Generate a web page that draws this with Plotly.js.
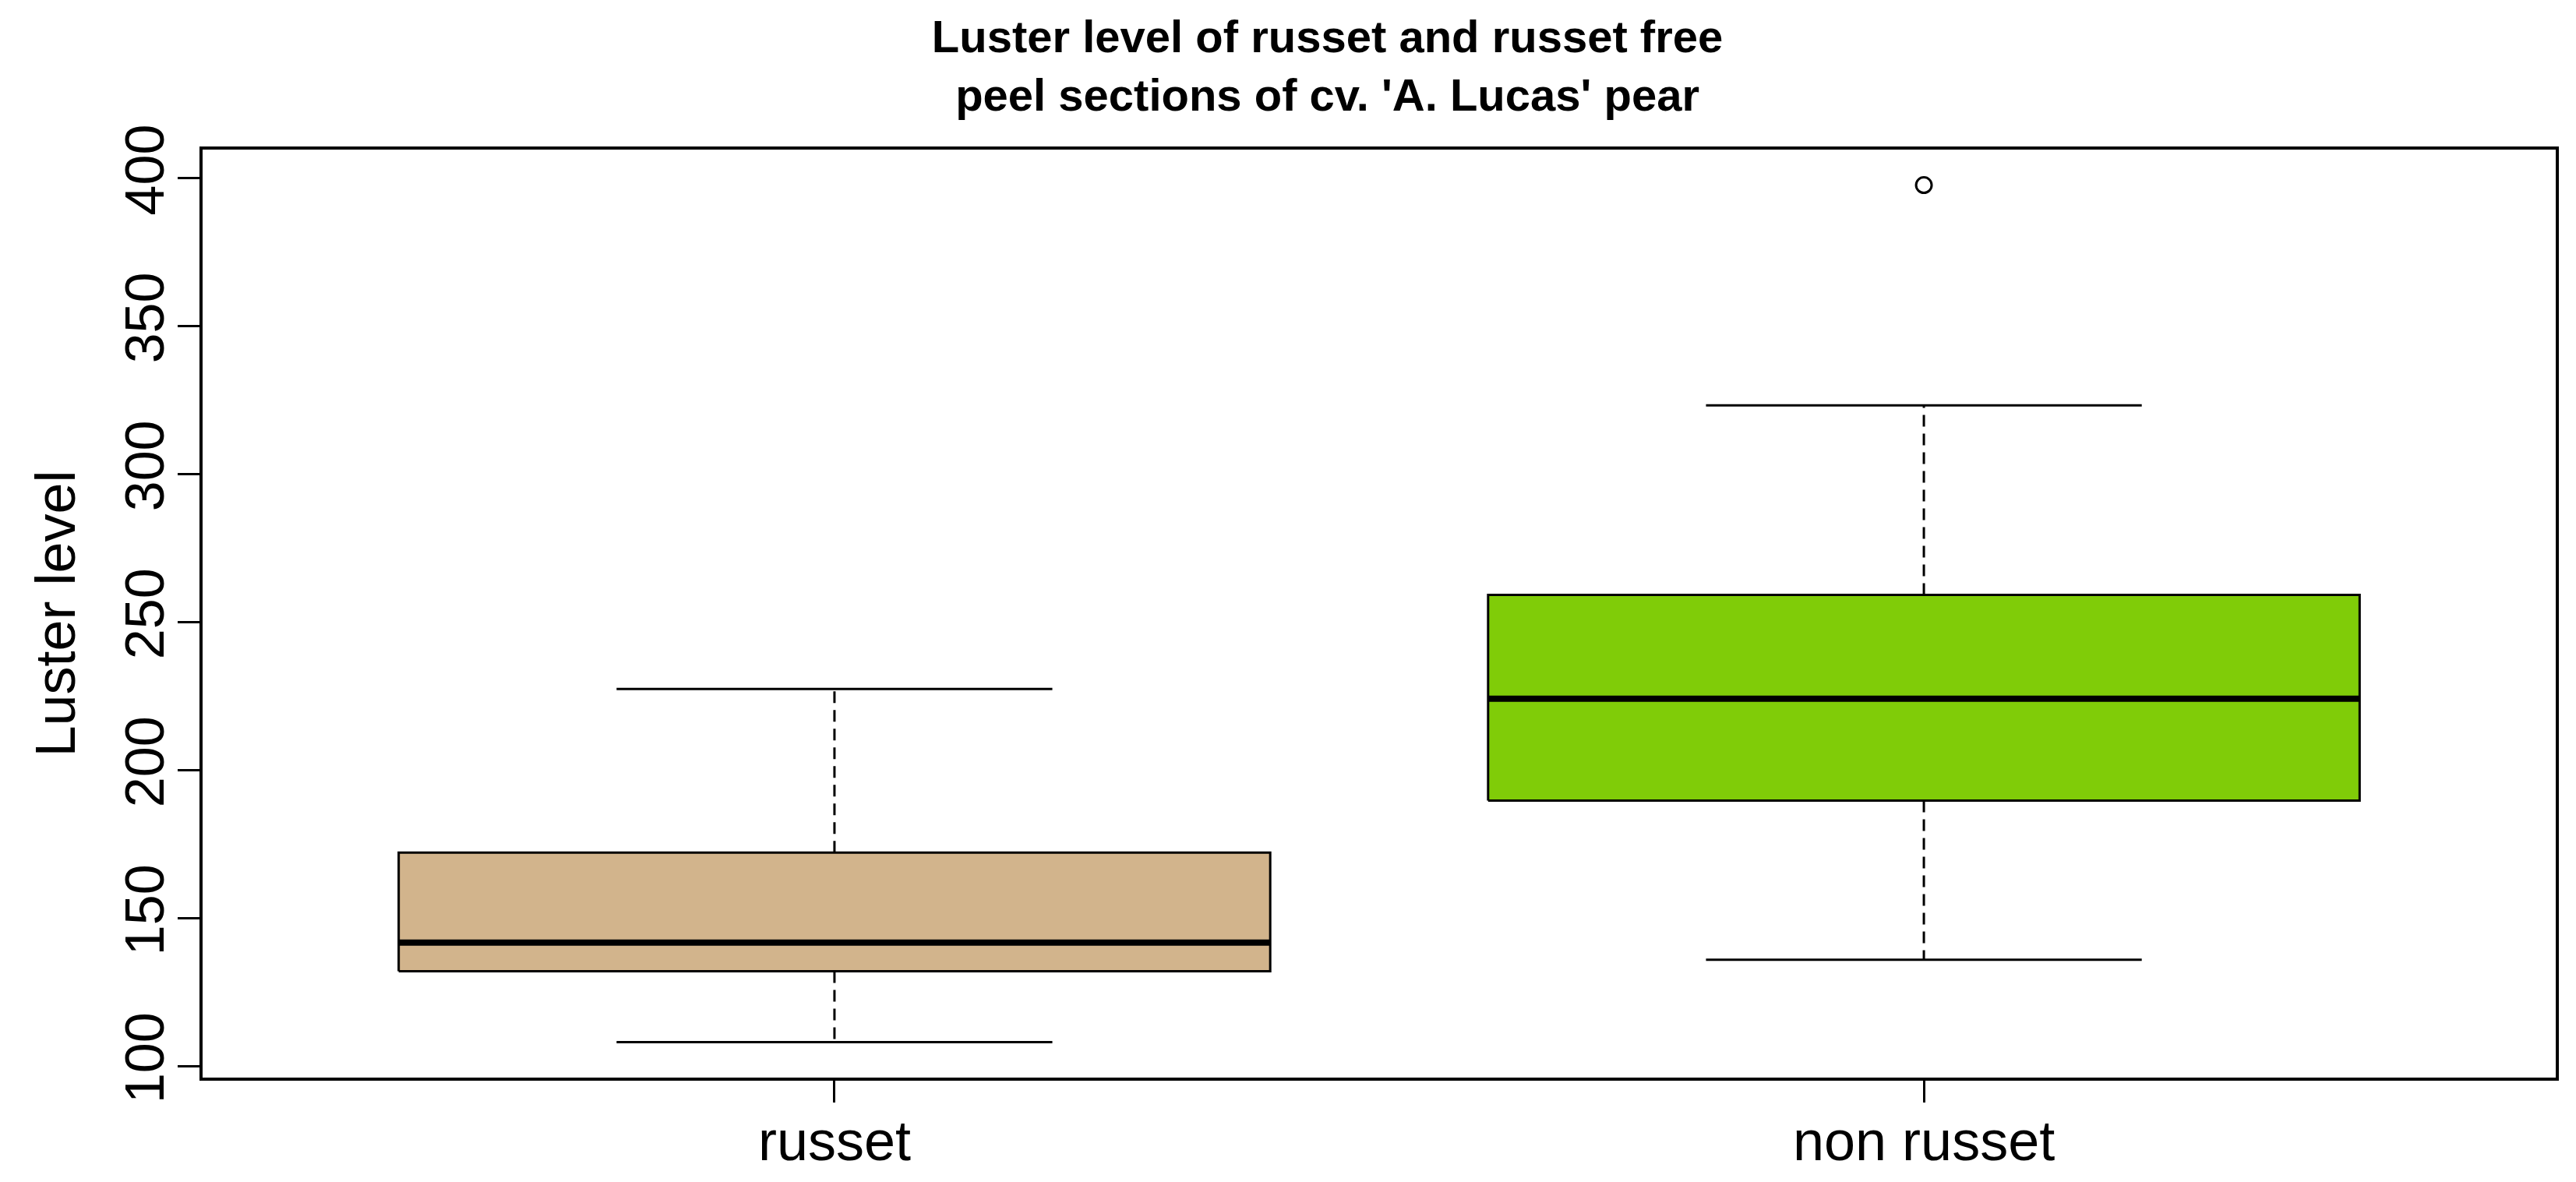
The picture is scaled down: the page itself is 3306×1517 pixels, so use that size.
<!DOCTYPE html>
<html>
<head>
<meta charset="utf-8">
<script src="https://cdn.plot.ly/plotly-3.0.1.min.js"></script>
<style>
  html, body { margin: 0; padding: 0; background: #fff; }
  #chart { width: 3306px; height: 1517px; }
</style>
</head>
<body>
<div id="chart"></div>
<script>
// box statistics
const groups = ['russet', 'non russet']
const lowerWhisker = [108.1, 135.9]
const q1 = [132.0, 189.7]
const median = [141.7, 224.1]
const q3 = [172.1, 259.2]
const upperWhisker = [227.4, 323.2]
const outliers = [[], [397.6]]
const fills = ['#D2B48C', '#80CC08']

const boxWidth = 0.8
const stapleWidth = 0.4
const font = 'Arial, "Liberation Sans", sans-serif'

let data = []
groups.forEach((g, i) => {
    const x = i + 1
    const h = boxWidth / 2, s = stapleWidth / 2
    // dashed whiskers
    data.push({
        type: 'scatter', mode: 'lines',
        x: [x, x, null, x, x],
        y: [q3[i], upperWhisker[i], null, q1[i], lowerWhisker[i]],
        line: { color: 'black', width: 3, dash: '15px,9px' },
        hoverinfo: 'skip'
    })
    // staples
    data.push({
        type: 'scatter', mode: 'lines',
        x: [x - s, x + s, null, x - s, x + s],
        y: [upperWhisker[i], upperWhisker[i], null, lowerWhisker[i], lowerWhisker[i]],
        line: { color: 'black', width: 3 },
        hoverinfo: 'skip'
    })
    // box
    data.push({
        type: 'scatter', mode: 'lines',
        x: [x - h, x + h, x + h, x - h, x - h],
        y: [q1[i], q1[i], q3[i], q3[i], q1[i]],
        fill: 'toself', fillcolor: fills[i],
        line: { color: 'black', width: 3 },
        name: g
    })
    // median
    data.push({
        type: 'scatter', mode: 'lines',
        x: [x - h, x + h],
        y: [median[i], median[i]],
        line: { color: 'black', width: 8 },
        hoverinfo: 'skip'
    })
    // outliers
    if (outliers[i].length) {
        data.push({
            type: 'scatter', mode: 'markers',
            x: outliers[i].map(() => x),
            y: outliers[i],
            marker: { symbol: 'circle-open', size: 20, color: 'black', line: { width: 3, color: 'black' } }
        })
    }
})

const layout = {
    width: 3306,
    height: 1517,
    paper_bgcolor: 'white',
    plot_bgcolor: 'white',
    showlegend: false,
    margin: { l: 260, r: 26, t: 192, b: 134 },
    font: { family: font, color: 'black' },
    title: {
        text: "<b>Luster level of russet and russet free<br>peel sections of cv. 'A. Lucas' pear</b>",
        font: { family: font, size: 58, color: 'black' },
        xref: 'paper', x: 0.478, xanchor: 'center',
        yref: 'container', y: 0.956, yanchor: 'middle'
    },
    xaxis: {
        range: [0.42, 2.58],
        tickvals: groups.map((g, i) => i + 1),
        ticktext: groups,
        ticks: 'outside', ticklen: 28, tickwidth: 3, tickcolor: 'black',
        ticklabelstandoff: -12,
        tickfont: { size: 72 },
        showgrid: false, zeroline: false,
        showline: true, mirror: true, linecolor: 'black', linewidth: 4
    },
    yaxis: {
        range: [96.1, 409.6],
        tickvals: [100, 150, 200, 250, 300, 350, 400],
        tickangle: -90,
        ticks: 'outside', ticklen: 28, tickwidth: 3, tickcolor: 'black',
        ticklabelstandoff: -10,
        tickfont: { size: 70 },
        showgrid: false, zeroline: false,
        showline: true, mirror: true, linecolor: 'black', linewidth: 4,
        title: { text: 'Luster level', font: { size: 72 }, standoff: 28 }
    }
}

Plotly.newPlot('chart', data, layout, { displayModeBar: false, staticPlot: true })
</script>
</body>
</html>
